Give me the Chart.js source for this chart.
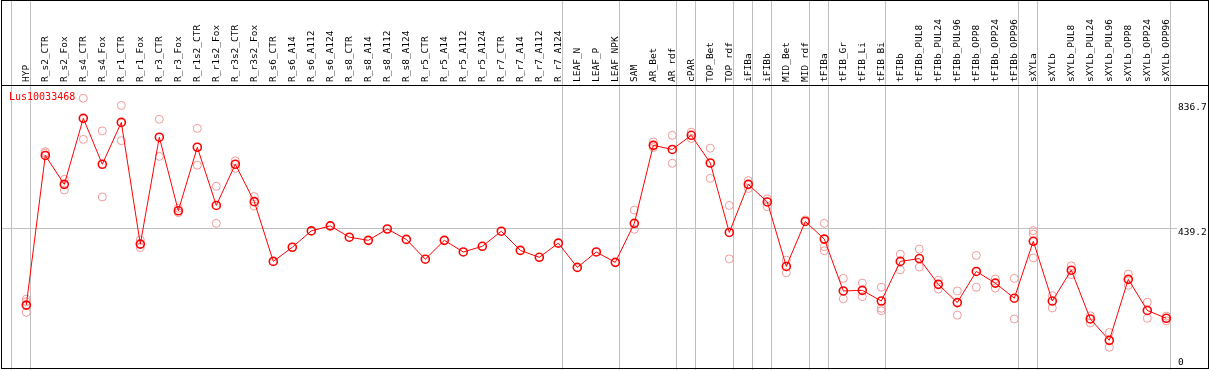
<!DOCTYPE html>
<html>
<head>
<meta charset="utf-8">
<script src="https://cdn.jsdelivr.net/npm/chart.js@4.4.1/dist/chart.umd.min.js"></script>
<style>
  html, body { margin: 0; padding: 0; background: #fff; }
</style>
</head>
<body>
<canvas id="geneChart" width="1209" height="370"></canvas>
<script>
const seriesName = "Lus10033468";

const categories = [
  "HYP", "R_s2_CTR", "R_s2_Fox", "R_s4_CTR", "R_s4_Fox", "R_r1_CTR", "R_r1_Fox",
  "R_r3_CTR", "R_r3_Fox", "R_r1s2_CTR", "R_r1s2_Fox", "R_r3s2_CTR", "R_r3s2_Fox",
  "R_s6_CTR", "R_s6_A14", "R_s6_A112", "R_s6_A124", "R_s8_CTR", "R_s8_A14", "R_s8_A112", "R_s8_A124",
  "R_r5_CTR", "R_r5_A14", "R_r5_A112", "R_r5_A124", "R_r7_CTR", "R_r7_A14", "R_r7_A112", "R_r7_A124",
  "LEAF_N", "LEAF_P", "LEAF_NPK", "SAM", "AR_Bet", "AR_rdf", "cPAR", "TOP_Bet", "TOP_rdf",
  "iFIBa", "iFIBb", "MID_Bet", "MID_rdf", "tFIBa", "tFIB_Gr", "tFIB_Li", "tFIB_Bi", "tFIBb",
  "tFIBb_PUL8", "tFIBb_PUL24", "tFIBb_PUL96", "tFIBb_OPP8", "tFIBb_OPP24", "tFIBb_OPP96",
  "sXYLa", "sXYLb", "sXYLb_PUL8", "sXYLb_PUL24", "sXYLb_PUL96", "sXYLb_OPP8", "sXYLb_OPP24", "sXYLb_OPP96"
];

// mean expression per sample
const means = [
  194, 670, 578, 788, 642, 775, 388, 728, 494, 696, 511, 642, 523,
  333, 378, 430, 446, 410, 400, 436, 403, 340, 400, 363, 381, 429, 368, 346, 391,
  314, 363, 330, 454, 702, 689, 734, 646, 425, 578, 522, 317, 460, 404,
  239, 241, 207, 333, 342, 260, 202, 301, 264, 216,
  397, 207, 305, 150, 82, 276, 177, 152
];

// replicate values (null = hidden under the mean)
const repA = [
  213, 682, 594, 852, 748, 829, 401, 785, 502, 756, 572, 653, 539,
  null, null, null, null, null, null, null, null, null, null, null, null, null, null, null, null,
  null, null, null, 496, 713, 734, 744, 693, 511, 590, 532, 337, 465, 454,
  279, 264, 251, 356, 372, 273, 239, 352, 277, 279,
  431, 224, 319, 160, 107, 293, 203, 159
];
const repB = [
  171, 677, 560, 721, 538, 717, 377, 667, 488, 639, 454, 629, 509,
  null, null, null, null, null, null, null, null, null, null, null, null, null, null, null, null,
  null, null, null, 435, 695, 645, 724, 597, 341, 565, 507, 297, null, 380,
  214, 221, 184, 306, 315, 245, 162, 251, 248, 150,
  344, 185, 291, 137, 60, 257, 152, 144
];
const repC = [
  205, null, null, null, null, null, null, null, null, null, null, null, null,
  null, null, null, null, null, null, null, null, null, null, null, null, null, null, null, null,
  null, null, null, null, null, null, null, null, null, null, null, null, null, 367,
  null, null, 176, null, null, null, null, null, null, null,
  420, null, null, null, null, null, null, null
];

const yTickValues = [0, 439.2, 836.7];
// sample index after which a group separator is drawn (-1 = left edge)
const groupEnds = [-1, 0, 28, 31, 34, 35, 37, 38, 39, 41, 42, 45, 52, 53, 60];

const monoFont = "'DejaVu Sans Mono', 'Liberation Mono', monospace";
const gridGray = "#c0c0c0";

const toPoints = arr => arr.map((v, i) => ({ x: i, y: v })).filter(p => p.y !== null);

const repStyle = {
  showLine: false,
  pointRadius: 4,
  pointBorderWidth: 1,
  pointBorderColor: "#f09a9a",
  pointBackgroundColor: "rgba(0,0,0,0)",
  pointHoverRadius: 4
};

const decorPlugin = {
  id: "decor",
  beforeDatasetsDraw(chart) {
    const { ctx, scales } = chart;
    ctx.save();
    ctx.strokeStyle = gridGray;
    ctx.lineWidth = 1;
    groupEnds.forEach(i => {
      const px = Math.round(scales.x.getPixelForValue(i + 0.21)) + 0.5;
      ctx.beginPath();
      ctx.moveTo(px, 0);
      ctx.lineTo(px, chart.height);
      ctx.stroke();
    });
    ctx.restore();
  },
  afterDraw(chart) {
    const { ctx, chartArea, scales } = chart;
    ctx.save();
    // outer frame + header separator
    ctx.strokeStyle = "#000";
    ctx.lineWidth = 1;
    ctx.strokeRect(1.5, 0.5, chart.width - 2, chartArea.bottom);
    ctx.beginPath();
    ctx.moveTo(1, chartArea.top + 0.5);
    ctx.lineTo(chart.width, chartArea.top + 0.5);
    ctx.stroke();

    // right-hand value labels
    ctx.fillStyle = "#000";
    ctx.font = "9.5px " + monoFont;
    ctx.textAlign = "left";
    ctx.textBaseline = "top";
    yTickValues.forEach(v => {
      let py = scales.y.getPixelForValue(v);
      py = Math.min(py, chartArea.bottom - 10);
      ctx.fillText(String(v), chartArea.right + 7, py);
    });

    // series name
    ctx.fillStyle = "#ff0000";
    ctx.font = "10px " + monoFont;
    ctx.textBaseline = "middle";
    ctx.fillText(seriesName, chartArea.left + 8, chartArea.top + 12);
    ctx.restore();
  }
};

new Chart(document.getElementById("geneChart"), {
  type: "line",
  data: {
    datasets: [
      {
        label: seriesName,
        data: toPoints(means),
        borderColor: "#ff0000",
        borderWidth: 1,
        tension: 0,
        pointRadius: 4,
        pointBorderWidth: 1.6,
        pointBorderColor: "#ff0000",
        pointBackgroundColor: "rgba(0,0,0,0)",
        pointHoverRadius: 4
      },
      { label: "rep1", data: toPoints(repA), ...repStyle },
      { label: "rep2", data: toPoints(repB), ...repStyle },
      { label: "rep3", data: toPoints(repC), ...repStyle }
    ]
  },
  options: {
    responsive: false,
    animation: false,
    layout: { autoPadding: false, padding: { left: 1, right: 0, top: 0, bottom: 2 } },
    plugins: {
      legend: { display: false },
      tooltip: { enabled: false }
    },
    scales: {
      x: {
        type: "linear",
        position: "top",
        min: -1.332,
        max: 60.247,
        grid: { display: false, drawTicks: false },
        border: { display: false },
        afterBuildTicks: scale => {
          scale.ticks = categories.map((_, i) => ({ value: i }));
        },
        afterFit: scale => {
          scale.height = 85;
          scale.paddingLeft = 0;
          scale.paddingRight = 0;
        },
        ticks: {
          autoSkip: false,
          minRotation: 90,
          maxRotation: 90,
          padding: 3,
          labelOffset: 12,
          color: "#000",
          font: { family: monoFont, size: 9.5 },
          callback: v => categories[v]
        }
      },
      y: {
        position: "right",
        min: -6,
        max: 894,
        afterBuildTicks: scale => {
          scale.ticks = yTickValues.map(v => ({ value: v }));
        },
        afterFit: scale => {
          scale.width = 38;
          scale.paddingTop = 0;
          scale.paddingBottom = 0;
        },
        ticks: { display: false },
        grid: {
          color: c => (c.tick && c.tick.value === 439.2 ? gridGray : "rgba(0,0,0,0)"),
          tickLength: 6
        },
        border: { display: false }
      }
    }
  },
  plugins: [decorPlugin]
});
</script>
</body>
</html>
